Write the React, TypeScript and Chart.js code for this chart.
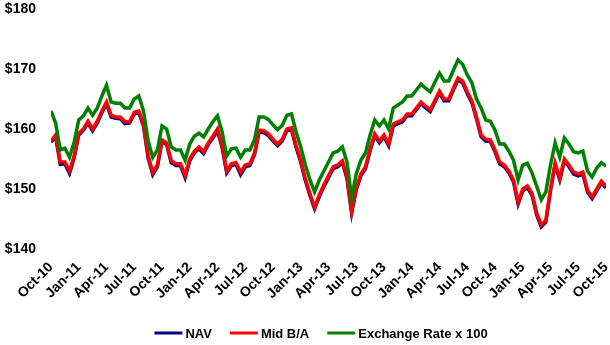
import React, { useEffect, useRef } from 'react';
import { Chart, registerables } from 'chart.js';

Chart.register(...registerables);

// Quarterly tick labels (x axis, months since Oct-10 in steps of 3)
const X_LABELS = [
  'Oct-10', 'Jan-11', 'Apr-11', 'Jul-11', 'Oct-11', 'Jan-12', 'Apr-12', 'Jul-12',
  'Oct-12', 'Jan-13', 'Apr-13', 'Jul-13', 'Oct-13', 'Jan-14', 'Apr-14', 'Jul-14',
  'Oct-14', 'Jan-15', 'Apr-15', 'Jul-15', 'Oct-15',
];

// Observations every half month starting Oct-10
const SAMPLE_STEP_MONTHS = 0.5;

const NAV = [
  157.8, 158.7, 154.1, 154.2, 152.6, 155.2, 159.0, 159.8, 161.0, 159.7,
  161.0, 162.7, 164.2, 162.0, 161.8, 161.7, 160.9, 161.0, 162.5, 162.7,
  160.5, 155.2, 152.4, 153.7, 157.9, 157.4, 154.4, 153.9, 153.9, 151.9,
  154.7, 156.0, 156.7, 155.9, 157.4, 158.5, 159.7, 156.9, 152.7, 153.9,
  154.1, 152.4, 153.7, 153.9, 155.7, 159.5, 159.4, 158.9, 158.0, 157.2,
  158.0, 159.7, 159.9, 156.9, 154.5, 151.4, 148.9, 146.7, 148.7, 150.4,
  151.9, 153.4, 153.7, 154.4, 151.7, 146.0, 149.9, 152.2, 153.4, 156.4,
  158.9, 157.7, 158.7, 157.2, 160.5, 160.9, 161.2, 162.2, 162.2, 163.2,
  164.2, 163.5, 162.9, 164.5, 166.0, 164.7, 164.7, 166.5, 168.2, 167.7,
  165.9, 164.4, 161.7, 158.7, 158.0, 157.9, 156.2, 154.2, 153.7, 152.7,
  151.2, 147.5, 149.7, 150.2, 149.0, 145.7, 143.7, 144.5, 149.7, 154.0,
  151.5, 154.7, 153.7, 152.5, 152.2, 152.5, 149.5, 148.4, 149.7, 151.0,
  150.2,
];

const MID_BA = [
  158.0, 159.0, 154.5, 154.5, 153.0, 155.5, 159.3, 160.0, 161.3, 160.0,
  161.3, 163.0, 164.5, 162.3, 162.0, 162.0, 161.2, 161.2, 162.8, 163.0,
  160.8, 155.5, 152.8, 154.0, 158.2, 157.7, 154.7, 154.2, 154.2, 152.3,
  155.0, 156.3, 157.0, 156.2, 157.7, 158.8, 160.0, 157.2, 153.0, 154.2,
  154.4, 152.8, 154.0, 154.2, 156.0, 159.8, 159.7, 159.2, 158.3, 157.5,
  158.3, 160.0, 160.2, 157.2, 154.8, 151.7, 149.2, 147.0, 149.0, 150.7,
  152.2, 153.7, 154.0, 154.7, 152.0, 146.3, 150.2, 152.5, 153.7, 156.7,
  159.2, 158.0, 159.0, 157.5, 160.8, 161.2, 161.5, 162.5, 162.5, 163.5,
  164.5, 163.8, 163.2, 164.8, 166.3, 165.0, 165.0, 166.8, 168.5, 168.0,
  166.2, 164.7, 162.0, 159.0, 158.3, 158.2, 156.5, 154.5, 154.0, 153.0,
  151.5, 147.8, 150.0, 150.5, 149.3, 146.0, 144.0, 144.8, 150.0, 154.3,
  151.8, 155.0, 154.0, 152.8, 152.5, 152.8, 149.8, 148.7, 150.0, 151.3,
  150.5,
];

const EXCHANGE_X100 = [
  163.0, 161.0, 156.5, 156.8, 155.3, 157.8, 161.5, 162.2, 163.5, 162.3,
  163.5, 165.5, 167.3, 164.5, 164.3, 164.3, 163.5, 163.5, 165.0, 165.5,
  163.0, 158.0, 155.3, 156.5, 160.5, 160.0, 157.0, 156.5, 156.5, 154.8,
  157.5, 158.8, 159.3, 158.7, 160.0, 161.2, 162.2, 159.5, 155.5, 156.7,
  156.8, 155.3, 156.5, 156.5, 158.2, 162.0, 162.0, 161.6, 160.7, 159.9,
  160.6, 162.3, 162.5, 159.5, 157.0, 154.0, 151.5, 149.5, 151.5, 153.0,
  154.5, 156.0, 156.3, 157.0, 154.5, 148.5, 152.5, 154.8, 156.0, 159.0,
  161.5, 160.5, 161.5, 160.0, 163.5, 164.0, 164.5, 165.5, 165.5, 166.5,
  167.5, 166.8, 166.2, 167.8, 169.3, 168.0, 168.0, 169.8, 171.5, 170.8,
  169.0, 167.7, 165.0, 163.5, 161.5, 161.3, 159.8, 157.5, 157.5, 156.3,
  154.8, 151.5, 154.0, 154.3, 152.7, 150.5, 148.2, 149.5, 154.0, 157.7,
  155.3, 158.5, 157.5, 156.2, 156.0, 156.3, 153.0, 152.0, 153.5, 154.4,
  153.8,
];

const SERIES_LABELS = ['NAV', 'Mid B/A', 'Exchange Rate x 100'];
const SERIES_COLORS = ['#000080', '#FF0000', '#008000'];

const FONT = '"Liberation Sans", Arial, Helvetica, sans-serif';
const LEGEND_Y = 333;
const LEGEND_CENTER_X = 321;

const toPoints = (arr: number[]) => arr.map((v, i) => ({ x: i * SAMPLE_STEP_MONTHS, y: v }));

const bottomLegend = {
  id: 'bottomLegend',
  afterDraw(chart: any) {
    const ctx = chart.ctx as CanvasRenderingContext2D;
    ctx.save();
    ctx.font = `bold 13px ${FONT}`;
    const lineW = 28;
    const gapText = 3;
    const gapItem = 18;
    const items = chart.data.datasets.map((ds: any) => ({
      label: ds.label as string,
      color: ds.borderColor as string,
      w: ctx.measureText(ds.label).width,
    }));
    const total =
      items.reduce((s: number, it: any) => s + lineW + gapText + it.w, 0) + gapItem * (items.length - 1);
    let x = LEGEND_CENTER_X - total / 2;
    for (const it of items) {
      ctx.strokeStyle = it.color;
      ctx.lineWidth = 3;
      ctx.beginPath();
      ctx.moveTo(x, LEGEND_Y);
      ctx.lineTo(x + lineW, LEGEND_Y);
      ctx.stroke();
      ctx.fillStyle = '#000';
      ctx.textAlign = 'left';
      ctx.textBaseline = 'middle';
      ctx.fillText(it.label, x + lineW + gapText, LEGEND_Y + 1);
      x += lineW + gapText + it.w + gapItem;
    }
    ctx.restore();
  },
};

export default function App() {
  const canvasRef = useRef<HTMLCanvasElement | null>(null);

  useEffect(() => {
    if (!canvasRef.current) return;
    const seriesData = [NAV, MID_BA, EXCHANGE_X100];
    const chart = new Chart(canvasRef.current, {
      type: 'line',
      data: {
        datasets: seriesData.map((arr, k) => ({
          label: SERIES_LABELS[k],
          data: toPoints(arr),
          borderColor: SERIES_COLORS[k],
          backgroundColor: SERIES_COLORS[k],
          borderWidth: 3.5,
          pointRadius: 0,
          tension: 0,
          fill: false,
          order: 3 - k,
        })),
      },
      options: {
        animation: false,
        responsive: false,
        devicePixelRatio: 1,
        layout: { padding: { left: 5, right: 4, top: 9, bottom: 30 } },
        plugins: {
          legend: { display: false },
          tooltip: { enabled: false },
        },
        scales: {
          x: {
            type: 'linear',
            min: 0,
            max: (X_LABELS.length - 1) * 3,
            grid: { display: false, drawTicks: false },
            border: { display: false },
            afterFit: (scale: any) => {
              scale.height = 66;
              scale.paddingLeft = 0;
              scale.paddingRight = 0;
            },
            ticks: {
              stepSize: 3,
              autoSkip: false,
              maxRotation: 45,
              minRotation: 45,
              padding: 10,
              color: '#000',
              font: { family: FONT, size: 14, weight: 'bold' },
              callback: (v: any) => X_LABELS[Math.round(Number(v) / 3)] ?? '',
            },
          },
          y: {
            min: 140,
            max: 180,
            grid: { display: false, drawTicks: false },
            border: { display: false },
            afterFit: (scale: any) => {
              scale.width = 46;
              scale.paddingTop = 0;
              scale.paddingBottom = 0;
            },
            ticks: {
              stepSize: 10,
              padding: 15,
              color: '#000',
              font: { family: FONT, size: 14, weight: 'bold' },
              callback: (v: any) => '$' + v,
            },
          },
        },
      },
      plugins: [bottomLegend],
    });
    return () => chart.destroy();
  }, []);

  return (
    <div style={{ position: 'fixed', left: 0, top: 0, width: 610, height: 345, background: '#fff' }}>
      <canvas ref={canvasRef} width={610} height={345} />
    </div>
  );
}
